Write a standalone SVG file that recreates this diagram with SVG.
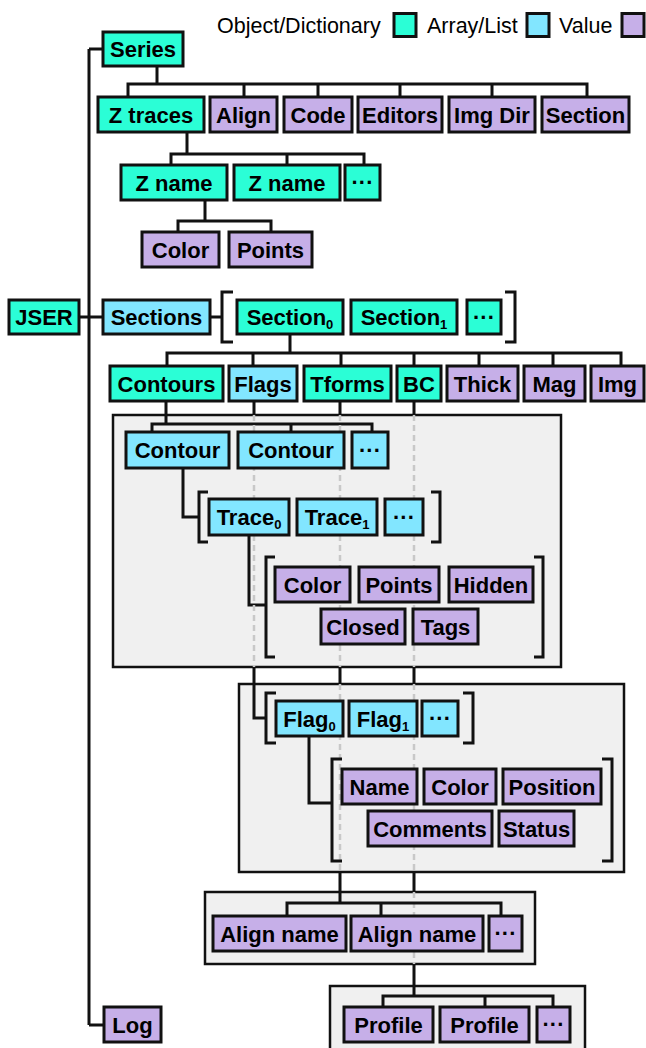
<svg xmlns="http://www.w3.org/2000/svg" width="646" height="1048" viewBox="0 0 646 1048">
<style>
.g{fill:#2bfed6;stroke:#111;stroke-width:3}
.b{fill:#82e6ff;stroke:#111;stroke-width:3}
.p{fill:#c6afe8;stroke:#111;stroke-width:3}
.box{fill:#f0f0f0;stroke:#111;stroke-width:2.5}
.t{font-family:"Liberation Sans",Arial,sans-serif;font-weight:bold;font-size:22px;text-anchor:middle;fill:#000}
.lg{font-family:"Liberation Sans",Arial,sans-serif;font-size:21.5px;fill:#000}
.s{font-size:13px}
.c{fill:none;stroke:#111;stroke-width:3}
.d{fill:none;stroke:#c8c8c8;stroke-width:2.5;stroke-dasharray:6 4}
.br{fill:none;stroke:#111;stroke-width:3}
</style>
<rect width="646" height="1048" fill="#fff"/>
<g id="legend">
<text class="lg" x="217" y="32.5">Object/Dictionary</text>
<rect class="g" x="394" y="13.5" width="22" height="23" stroke-width="2.5"/>
<text class="lg" x="427" y="32.5">Array/List</text>
<rect class="b" x="527" y="13.5" width="22" height="23" stroke-width="2.5"/>
<text class="lg" x="559" y="32.5">Value</text>
<rect class="p" x="622" y="13.5" width="22" height="23" stroke-width="2.5"/>
</g>
<g id="containers">
<rect class="box" x="113" y="415" width="448" height="252"/>
<rect class="box" x="239" y="684" width="385" height="188"/>
<rect class="box" x="205" y="892" width="330" height="72"/>
<rect class="box" x="330" y="986" width="255" height="70"/>
</g>
<g id="connectors">
<path class="c" d="M89 49 V1025 M89 49 H103 M89 1025 H104 M79 317 H103 M210 317 H222"/>
<path class="c" d="M157 66 V84 M128 97 V84 H587 V97 M244 84 V97 M318 84 V97 M400 84 V97 M492 84 V97"/>
<path class="c" d="M187 132 V154 M171 165 V154 H364 V165 M287 154 V165"/>
<path class="c" d="M205 200 V221 M178 232 V221 H271 V232"/>
<path class="c" d="M290 334 V353 M167 366 V353 H621 V366 M253 353 V366 M341 353 V366 M414 353 V366 M479 353 V366 M553 353 V366"/>
<path class="c" d="M166 401 V424 M152 432 V424 H372 V432 M291 424 V432"/>
<path class="c" d="M183 468 V517 H199"/>
<path class="c" d="M249 535 V605 H266"/>
<path class="c" d="M309 736 V803 H332"/>
<path class="d" d="M254 415 V667 M340 415 V667 M414 415 V667 M340 684 V872 M414 684 V872 M414 892 V964"/>
<path class="c" d="M254 401 V415 M340 401 V415 M414 401 V415"/>
<path class="c" d="M254 667 V718 H266 M340 667 V684 M414 667 V684"/>
<path class="c" d="M340 872 V903 M287 916 V903 H501 V916 M381 903 V916"/>
<path class="c" d="M414 872 V892 M414 964 V996 M383 1007 V996 H553 V1007 M485 996 V1007"/>
</g>
<g id="brackets">
<path class="br" d="M233 292 H222 V342 H233 M505 292 H515 V342 H505"/>
<path class="br" d="M208 492 H199 V542 H208 M431 492 H440 V542 H431"/>
<path class="br" d="M275 557 H266 V657 H275 M534 557 H543 V657 H534"/>
<path class="br" d="M276 693 H266 V743 H276 M463 693 H473 V743 H463"/>
<path class="br" d="M342 759 H332 V861 H342 M602 759 H612 V861 H602"/>
</g>
<g id="series"><rect class="g" x="103" y="32" width="80" height="34"/><text class="t" x="143" y="57">Series</text></g>
<g id="ztraces"><rect class="g" x="98" y="97" width="106" height="35"/><text class="t" x="151" y="122.5">Z traces</text></g>
<g id="align"><rect class="p" x="210" y="97" width="67" height="35"/><text class="t" x="243.5" y="122.5">Align</text></g>
<g id="code"><rect class="p" x="284" y="97" width="68" height="35"/><text class="t" x="318" y="122.5">Code</text></g>
<g id="editors"><rect class="p" x="358" y="97" width="84" height="35"/><text class="t" x="400" y="122.5">Editors</text></g>
<g id="imgdir"><rect class="p" x="449" y="97" width="86" height="35"/><text class="t" x="492" y="122.5">Img Dir</text></g>
<g id="section"><rect class="p" x="542" y="97" width="87" height="35"/><text class="t" x="585.5" y="122.5">Section</text></g>
<g id="zname1"><rect class="g" x="121" y="165" width="106" height="35"/><text class="t" x="174" y="190.5">Z name</text></g>
<g id="zname2"><rect class="g" x="234" y="165" width="106" height="35"/><text class="t" x="287" y="190.5">Z name</text></g>
<g id="zmore"><rect class="g" x="345" y="165" width="35" height="35"/><text class="t" x="362.5" y="190">···</text></g>
<g id="zcolor"><rect class="p" x="142" y="232" width="77" height="35"/><text class="t" x="180.5" y="257.5">Color</text></g>
<g id="zpoints"><rect class="p" x="229" y="232" width="83" height="35"/><text class="t" x="270.5" y="257.5">Points</text></g>
<g id="jser"><rect class="g" x="9" y="300" width="70" height="34"/><text class="t" x="44" y="325">JSER</text></g>
<g id="sections"><rect class="b" x="103" y="300" width="107" height="34"/><text class="t" x="156.5" y="325">Sections</text></g>
<g id="section0"><rect class="g" x="237" y="300" width="106" height="34"/><text class="t" x="290" y="325">Section<tspan class="s" dy="4">0</tspan></text></g>
<g id="section1"><rect class="g" x="351" y="300" width="106" height="34"/><text class="t" x="404" y="325">Section<tspan class="s" dy="4">1</tspan></text></g>
<g id="secmore"><rect class="g" x="467" y="300" width="34" height="34"/><text class="t" x="484" y="324.5">···</text></g>
<g id="contours"><rect class="g" x="110" y="366" width="113" height="35"/><text class="t" x="166.5" y="391.5">Contours</text></g>
<g id="flags"><rect class="b" x="229" y="366" width="68" height="35"/><text class="t" x="263" y="391.5">Flags</text></g>
<g id="tforms"><rect class="g" x="304" y="366" width="87" height="35"/><text class="t" x="347.5" y="391.5">Tforms</text></g>
<g id="bc"><rect class="g" x="397" y="366" width="44" height="35"/><text class="t" x="419" y="391.5">BC</text></g>
<g id="thick"><rect class="p" x="447" y="366" width="71" height="35"/><text class="t" x="482.5" y="391.5">Thick</text></g>
<g id="mag"><rect class="p" x="524" y="366" width="61" height="35"/><text class="t" x="554.5" y="391.5">Mag</text></g>
<g id="img"><rect class="p" x="591" y="366" width="53" height="35"/><text class="t" x="617.5" y="391.5">Img</text></g>
<g id="contour1"><rect class="b" x="126" y="432" width="103" height="36"/><text class="t" x="177.5" y="458">Contour</text></g>
<g id="contour2"><rect class="b" x="238" y="432" width="106" height="36"/><text class="t" x="291" y="458">Contour</text></g>
<g id="contmore"><rect class="b" x="352" y="432" width="36" height="36"/><text class="t" x="370" y="457.5">···</text></g>
<g id="trace0"><rect class="b" x="209" y="499" width="80" height="36"/><text class="t" x="249" y="525">Trace<tspan class="s" dy="4">0</tspan></text></g>
<g id="trace1"><rect class="b" x="297" y="499" width="80" height="36"/><text class="t" x="337" y="525">Trace<tspan class="s" dy="4">1</tspan></text></g>
<g id="tracemore"><rect class="b" x="385" y="499" width="38" height="36"/><text class="t" x="404" y="524.5">···</text></g>
<g id="tcolor"><rect class="p" x="275" y="567" width="75" height="35"/><text class="t" x="312.5" y="592.5">Color</text></g>
<g id="tpoints"><rect class="p" x="359" y="567" width="80" height="35"/><text class="t" x="399" y="592.5">Points</text></g>
<g id="thidden"><rect class="p" x="449" y="567" width="84" height="35"/><text class="t" x="491" y="592.5">Hidden</text></g>
<g id="tclosed"><rect class="p" x="321" y="609" width="84" height="35"/><text class="t" x="363" y="634.5">Closed</text></g>
<g id="ttags"><rect class="p" x="413" y="609" width="65" height="35"/><text class="t" x="445.5" y="634.5">Tags</text></g>
<g id="flag0"><rect class="b" x="276" y="701" width="67" height="35"/><text class="t" x="309.5" y="726.5">Flag<tspan class="s" dy="4">0</tspan></text></g>
<g id="flag1"><rect class="b" x="349" y="701" width="68" height="35"/><text class="t" x="383" y="726.5">Flag<tspan class="s" dy="4">1</tspan></text></g>
<g id="flagmore"><rect class="b" x="422" y="701" width="36" height="35"/><text class="t" x="440" y="726">···</text></g>
<g id="fname"><rect class="p" x="342" y="769" width="75" height="35"/><text class="t" x="379.5" y="794.5">Name</text></g>
<g id="fcolor"><rect class="p" x="424" y="769" width="72" height="35"/><text class="t" x="460" y="794.5">Color</text></g>
<g id="fposition"><rect class="p" x="503" y="769" width="98" height="35"/><text class="t" x="552" y="794.5">Position</text></g>
<g id="fcomments"><rect class="p" x="368" y="811" width="124" height="35"/><text class="t" x="430" y="836.5">Comments</text></g>
<g id="fstatus"><rect class="p" x="499" y="811" width="75" height="35"/><text class="t" x="536.5" y="836.5">Status</text></g>
<g id="alignname1"><rect class="p" x="213" y="916" width="133" height="35"/><text class="t" x="279.5" y="941.5">Align name</text></g>
<g id="alignname2"><rect class="p" x="351" y="916" width="132" height="35"/><text class="t" x="417" y="941.5">Align name</text></g>
<g id="alignmore"><rect class="p" x="489" y="916" width="33" height="35"/><text class="t" x="505.5" y="941">···</text></g>
<g id="profile1"><rect class="p" x="344" y="1007" width="89" height="35"/><text class="t" x="388.5" y="1032.5">Profile</text></g>
<g id="profile2"><rect class="p" x="440" y="1007" width="89" height="35"/><text class="t" x="484.5" y="1032.5">Profile</text></g>
<g id="profilemore"><rect class="p" x="537" y="1007" width="33" height="35"/><text class="t" x="553.5" y="1032">···</text></g>
<g id="log"><rect class="p" x="104" y="1007" width="57" height="35"/><text class="t" x="132.5" y="1032.5">Log</text></g>
</svg>
